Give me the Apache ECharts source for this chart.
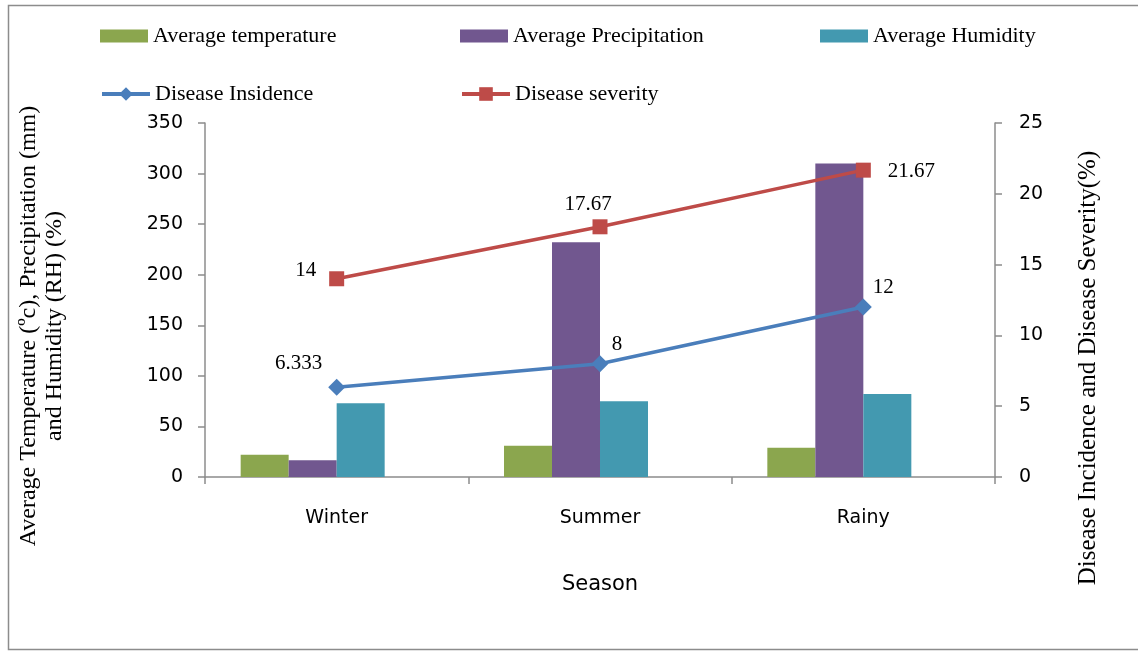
<!DOCTYPE html>
<html>
<head>
<meta charset="utf-8">
<script src="https://cdn.jsdelivr.net/npm/echarts@6/dist/echarts.min.js"></script>
<style>
  html, body { margin: 0; padding: 0; background: #fff; }
  #chart { width: 1138px; height: 656px; }
</style>
</head>
<body>
<div id="chart"></div>
<script>
// Seasons on the category axis
const seasons = ['Winter', 'Summer', 'Rainy'];

// Weather measurements (left axis)
const avgTemperature = [22, 31, 29];
const avgPrecipitation = [16.5, 232, 310];
const avgHumidity = [73, 75, 82];

// Disease measurements in % (right axis)
const diseaseIncidence = [6.333, 8, 12];
const diseaseSeverity = [14, 17.67, 21.67];

// Tick settings
const leftMax = 350, leftStep = 50;
const rightMax = 25, rightStep = 5;

const serif = '"Liberation Serif", "Times New Roman", serif';
const sans = '"DejaVu Sans", Verdana, sans-serif';

const colors = {
  temp: '#8BA64E',
  precip: '#71578F',
  humid: '#4399B0',
  incid: '#4A7EBB',
  sev: '#BE4B48'
};

// label placement for the line values
const incidLabel = [
  { position: 'top', offset: [-38, 0] },
  { position: 'top', offset: [17, 5] },
  { position: 'top', offset: [20, 4] }
];
const sevLabel = [
  { position: 'left', offset: [-8, -8] },
  { position: 'top', offset: [-12, 1] },
  { position: 'right', offset: [12, 1] }
];

const chart = echarts.init(document.getElementById('chart'), null, { renderer: 'canvas' });

const legendText = { fontFamily: serif, fontSize: 22, color: '#000' };
function legendAt(name, left, top, icon) {
  return {
    data: [name], left: left, top: top,
    itemWidth: 48, itemHeight: icon ? 13 : 17, itemGap: 0,
    icon: icon, textStyle: legendText, padding: 0, selectedMode: false,
    lineStyle: { width: 4 }
  };
}

const barBase = { type: 'bar', barWidth: 48, barGap: '0%', yAxisIndex: 0 };
const axisGray = '#8c8c8c';

chart.setOption({
  animation: false,
  backgroundColor: '#fff',
  graphic: [
    { type: 'rect', shape: { x: 8.5, y: 5.5, width: 1140, height: 644 },
      style: { fill: 'none', stroke: axisGray, lineWidth: 1.5 } },
    { type: 'text', x: 42, y: 326, rotation: Math.PI / 2,
      style: { text: 'Average Temperature (\u00bac), Precipitation (mm)\nand Humidity (RH) (%)',
        fontFamily: serif, fontSize: 24, fill: '#000', align: 'center', verticalAlign: 'middle', lineHeight: 26 } },
    { type: 'text', x: 1088, y: 368, rotation: Math.PI / 2,
      style: { text: 'Disease Incidence and Disease Severity(%)',
        fontFamily: serif, fontSize: 25, fill: '#000', align: 'center', verticalAlign: 'middle' } }
  ],
  legend: [
    legendAt('Average temperature', 100, 25, 'rect'),
    legendAt('Average Precipitation', 460, 25, 'rect'),
    legendAt('Average Humidity', 820, 25, 'rect'),
    legendAt('Disease Insidence', 100, 83),
    legendAt('Disease severity', 460, 83)
  ],
  grid: { left: 205, right: 143, top: 123, bottom: 179 },
  xAxis: {
    type: 'category', data: seasons, boundaryGap: true,
    name: 'Season', nameLocation: 'middle', nameGap: 97,
    nameTextStyle: { fontFamily: sans, fontSize: 21, color: '#000' },
    axisLine: { lineStyle: { color: axisGray, width: 1.5 } },
    axisTick: { show: true, length: 7, lineStyle: { color: axisGray, width: 1.5 } },
    axisLabel: { fontFamily: sans, fontSize: 19, color: '#000', margin: 32 }
  },
  yAxis: [
    {
      type: 'value', min: 0, max: leftMax, interval: leftStep,
      splitLine: { show: false },
      axisLine: { show: true, lineStyle: { color: axisGray, width: 1.5 } },
      axisTick: { show: true, length: 7, lineStyle: { color: axisGray, width: 1.5 } },
      axisLabel: { fontFamily: sans, fontSize: 19, color: '#000', margin: 22 }
    },
    {
      type: 'value', min: 0, max: rightMax, interval: rightStep, position: 'right',
      splitLine: { show: false },
      axisLine: { show: true, lineStyle: { color: axisGray, width: 1.5 } },
      axisTick: { show: true, length: 7, lineStyle: { color: axisGray, width: 1.5 } },
      axisLabel: { fontFamily: sans, fontSize: 19, color: '#000', margin: 24 }
    }
  ],
  series: [
    Object.assign({}, barBase, { name: 'Average temperature', data: avgTemperature,
      itemStyle: { color: colors.temp } }),
    Object.assign({}, barBase, { name: 'Average Precipitation', data: avgPrecipitation,
      itemStyle: { color: colors.precip } }),
    Object.assign({}, barBase, { name: 'Average Humidity', data: avgHumidity,
      itemStyle: { color: colors.humid } }),
    // reserved empty slot in each bar cluster
    Object.assign({}, barBase, { name: '', data: seasons.map(() => null) }),
    {
      type: 'line', name: 'Disease Insidence', yAxisIndex: 1,
      data: diseaseIncidence.map((v, i) => ({ value: v, label: incidLabel[i] })),
      symbol: 'diamond', symbolSize: 17,
      lineStyle: { color: colors.incid, width: 3.5 },
      itemStyle: { color: colors.incid },
      label: { show: true, fontFamily: serif, fontSize: 21, color: '#000',
        formatter: p => String(p.value) },
      z: 5
    },
    {
      type: 'line', name: 'Disease severity', yAxisIndex: 1,
      data: diseaseSeverity.map((v, i) => ({ value: v, label: sevLabel[i] })),
      symbol: 'rect', symbolSize: 15,
      lineStyle: { color: colors.sev, width: 3.5 },
      itemStyle: { color: colors.sev },
      label: { show: true, fontFamily: serif, fontSize: 21, color: '#000',
        formatter: p => String(p.value) },
      z: 5
    }
  ]
});
</script>
</body>
</html>
